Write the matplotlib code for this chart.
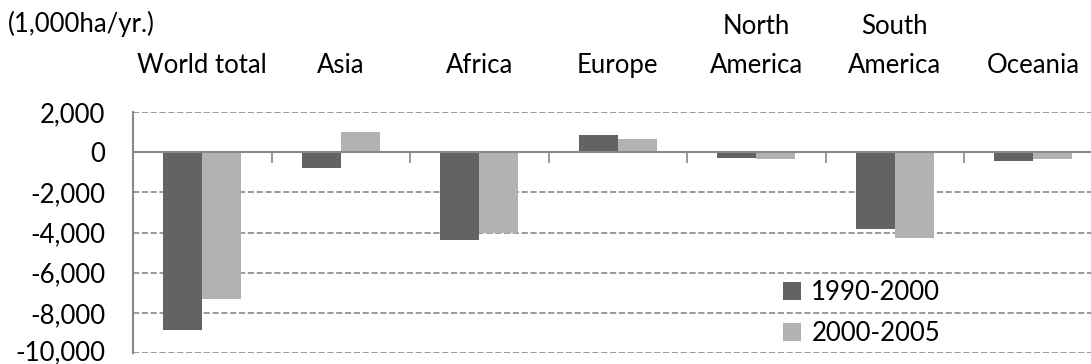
import matplotlib.pyplot as plt
import matplotlib.transforms as mtransforms
import numpy as np

# Net change in forest area by region (1,000 ha per year)
regions = ['World total', 'Asia', 'Africa', 'Europe', 'North\nAmerica', 'South\nAmerica', 'Oceania']
series_names = ['1990-2000', '2000-2005']
change_1990_2000 = [-8868, -792, -4375, 877, -289, -3802, -448]
change_2000_2005 = [-7317, 1003, -4040, 661, -333, -4251, -356]

plt.rcParams['font.family'] = ['Lato', 'DejaVu Sans']
fs = 18.5

fig = plt.figure(figsize=(10.91, 3.64), dpi=100)
ax = fig.add_axes([133 / 1091, 11 / 364, 969.5 / 1091, 241 / 364])

x = np.arange(len(regions))
w = 0.282
ax.bar(x - w / 2, change_1990_2000, width=w, color='#636363', label=series_names[0], zorder=3)
ax.bar(x + w / 2, change_2000_2005, width=w, color='#b2b2b2', label=series_names[1], zorder=3)

ax.set_xlim(-0.5, len(regions) - 0.5)
ax.set_ylim(-10000, 2000)
yticks = np.arange(-10000, 2001, 2000)
ax.set_yticks(yticks)
ax.set_yticklabels([f'{v:,}' for v in yticks], fontsize=fs)
ax.tick_params(axis='y', length=0, pad=20)
# keep the lowest label inside the figure
lowest = ax.get_yticklabels()[0]
lowest.set_transform(lowest.get_transform() + mtransforms.ScaledTranslation(0, 3 / 100, fig.dpi_scale_trans))

# Zero line as the x axis, with ticks between categories
ax.spines['bottom'].set_position(('data', 0))
ax.spines['bottom'].set_color('#898989')
ax.spines['bottom'].set_linewidth(1.5)
ax.spines['bottom'].set_zorder(4)
ax.set_xticks(np.arange(0.5, len(regions) - 0.5, 1))
ax.set_xticklabels([])
ax.tick_params(axis='x', direction='out', length=8, width=1.2, color='#898989')

ax.spines['left'].set_color('#898989')
ax.spines['left'].set_linewidth(1.5)
for s in ['top', 'right']:
    ax.spines[s].set_visible(False)

ax.yaxis.grid(True, linestyle='--', linewidth=1.2, color='#898989', zorder=0)
ax.set_axisbelow(True)

# Category names above the plot
label_trans = mtransforms.blended_transform_factory(ax.transData, fig.transFigure)
for xi, name in zip(x, regions):
    ax.text(xi, 1 - 73 / 364, name, transform=label_trans, ha='center', va='baseline',
            fontsize=fs, linespacing=1.7)

fig.text(8 / 1091, 1 - 32 / 364, '(1,000ha/yr.)', fontsize=fs, va='baseline', ha='left')

ax.legend(loc='center left', bbox_to_anchor=(783 / 1091, (364 - 313) / 364),
          bbox_transform=fig.transFigure, frameon=False, fontsize=fs,
          handlelength=0.7, handleheight=0.7, handletextpad=0.4, labelspacing=0.6,
          borderpad=0, borderaxespad=0)

fig.savefig('out.png', dpi=100)
